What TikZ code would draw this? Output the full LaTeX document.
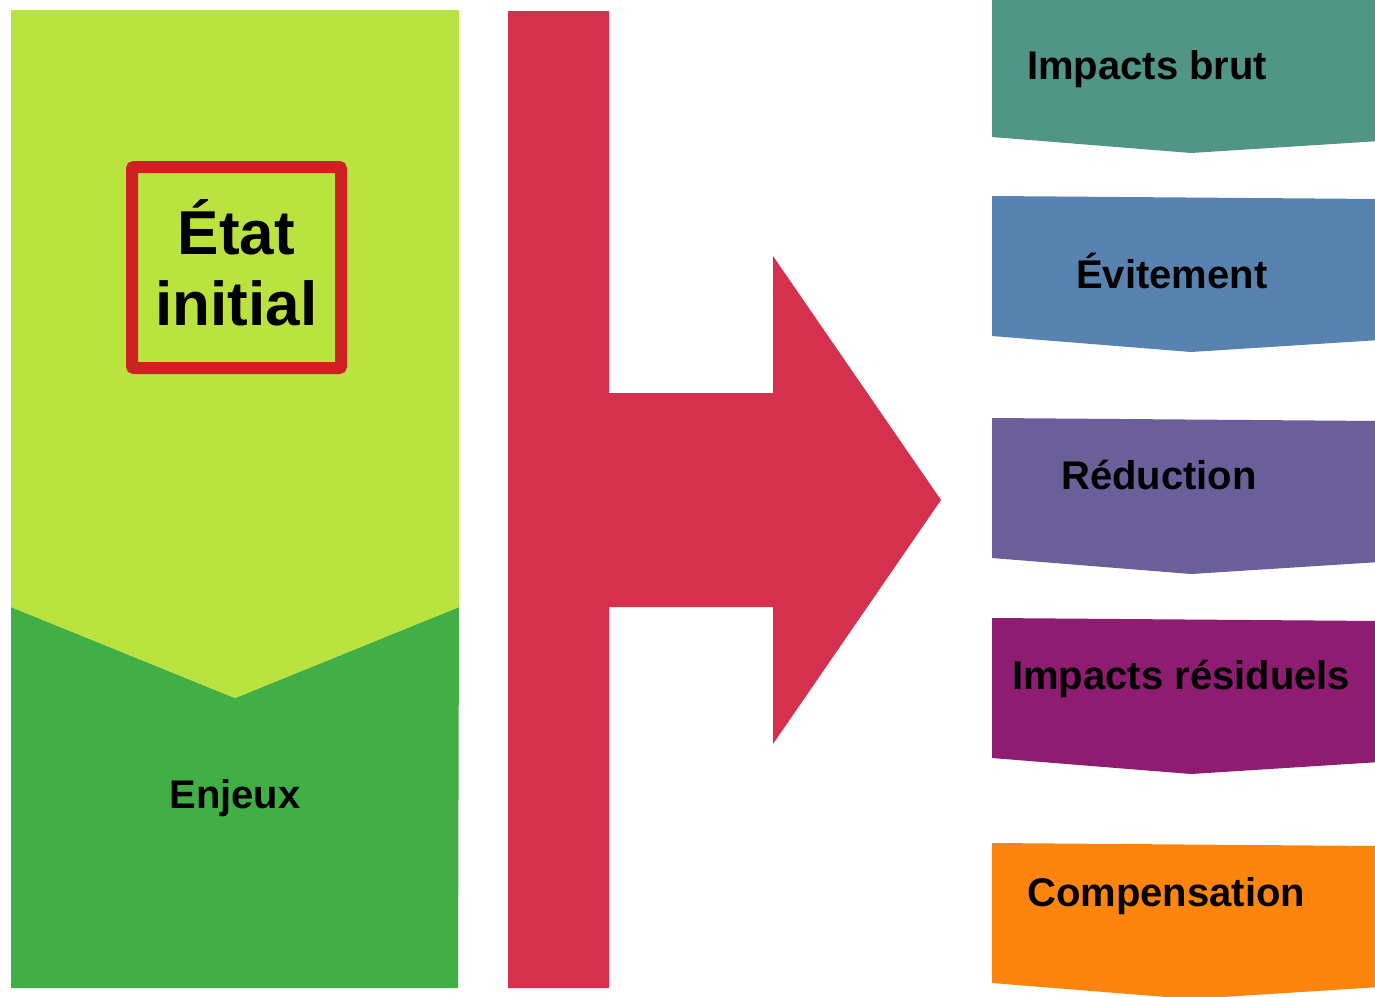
\documentclass[tikz,border=0pt]{standalone}
\usepackage{fontspec}
\setmainfont{Liberation Sans}
\usepackage{tikz}
\usepackage{xcolor}

\definecolor{etatgreen}{HTML}{BBE33F}
\definecolor{enjeuxgreen}{HTML}{41AE46}
\definecolor{crimson}{HTML}{D6304F}
\definecolor{boxred}{HTML}{CC2222}
\definecolor{brutteal}{HTML}{519587}
\definecolor{evitblue}{HTML}{5883B0}
\definecolor{reducpurple}{HTML}{6B5F9A}
\definecolor{residmagenta}{HTML}{8E1C70}
\definecolor{compensorange}{HTML}{FD850E}

\begin{document}
\begin{tikzpicture}[x=1pt,y=-1pt,
    label/.style={font=\fontsize{40}{46}\selectfont\bfseries,inner sep=0pt}]
    \useasboundingbox (0,0) rectangle (1375,996);
    \clip (0,0) rectangle (1375,996);
    \fill[enjeuxgreen] (11,607) -- (235,698) -- (459,607) -- (458,988) -- (11,988) -- cycle;
    \fill[etatgreen] (11,10) -- (459,10) -- (459,607) -- (235,698) -- (11,607) -- cycle;
    \node (etat) at (236.5,267.5) [draw=boxred,line width=12pt,rounded corners=2pt,
      minimum width=209,minimum height=201,align=center,inner sep=0pt,text depth=10pt,
      font=\fontsize{62}{71}\selectfont\bfseries] {État\\initial};
    \node (enjeux) at (235,808) [label,anchor=base] {Enjeux};
    \fill[crimson] (508,11) -- (609,11) -- (609,393) -- (773,393) -- (773,256)
      -- (941,500) -- (773,744) -- (773,607) -- (609,607) -- (609,988) -- (508,988) -- cycle;
    \foreach \y/\c/\t/\tx/\ty [count=\i] in {-3/brutteal/Impacts brut/1027/82,
      196/evitblue/Évitement/1076/92,
      418/reducpurple/Réduction/1061/71,
      618/residmagenta/Impacts résiduels/1012/71,
      843/compensorange/Compensation/1027/63} {
      \fill[\c] (992,\y) -- (1380,\y+3) -- (1380,\y+144) -- (1191,\y+156) -- (992,\y+140) -- cycle;
      \node (step\i) at (\tx,\y+\ty) [label,anchor=base west] {\t};
    }
\end{tikzpicture}
\end{document}
